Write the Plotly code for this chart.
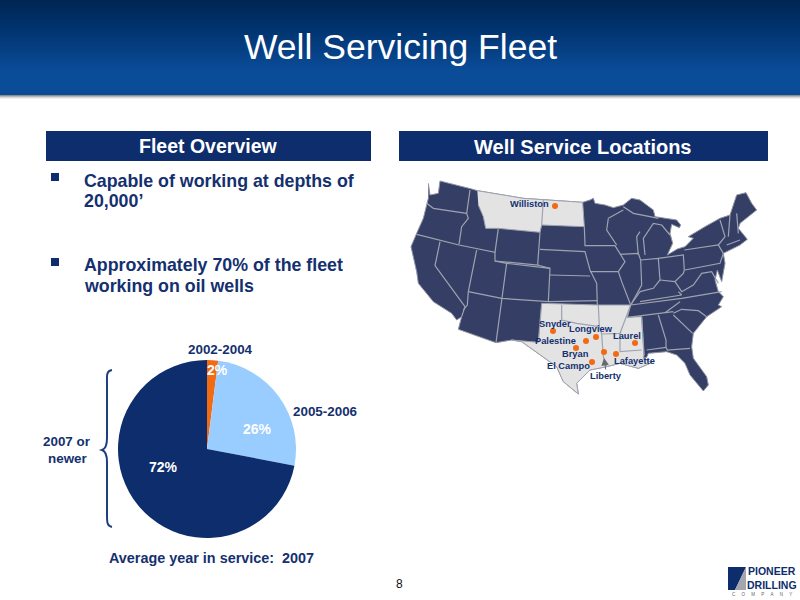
"""Well Servicing Fleet slide: fleet age pie and map of service locations."""

import plotly.graph_objects as go

NAVY = "#0d2d6c"
TEXT = "#14306f"
FONT = "Liberation Sans"

# fleet age split
age_labels = ["2002-2004", "2005-2006", "2007 or newer"]
age_values = [2, 26, 72]
age_colors = ["#f26a12", "#99ccff", NAVY]
age_label_x = [217, 257, 163]
age_label_y = [370, 429, 467]

# service locations
site_x = [555, 553, 586, 596, 576, 604, 616, 635, 592]
site_y = [206, 331, 341, 337, 348, 352, 354, 343, 362]
site_names = ["Williston", "Snyder", "Palestine", "Longview", "Bryan", "Liberty", "Lafayette", "Laurel", "El Campo"]
site_label_x = [529, 555, 555, 591, 575, 606, 634, 627, 568]
site_label_y = [204, 324, 341, 329, 354, 376, 361, 336, 366]

# header gradient, top to bottom
header_stops = [(0, (0, 38, 82)), (25, (0, 50, 107)), (70, (11, 76, 152)), (94, (11, 76, 152))]

# map outline, traced in a 3x working grid
us_outline = [
    (115, 40), (120, 75), (145, 70), (150, 33), (245, 57), (262, 62), (400, 85), (578, 97), (600, 90), (610, 85),
    (615, 100), (645, 105), (670, 113), (700, 105), (725, 85), (750, 90), (770, 105), (790, 120), (795, 140),
    (860, 150), (872, 165), (868, 173), (845, 163), (840, 190), (848, 220), (832, 255), (862, 237), (885, 230),
    (910, 205), (895, 200), (945, 170), (990, 145), (1020, 135), (1040, 75), (1068, 68), (1085, 100), (1100, 120),
    (1050, 160), (1045, 175), (1072, 208), (1050, 225), (1020, 240), (1000, 250), (1005, 280), (995, 335),
    (982, 300), (975, 330), (985, 365), (1000, 380), (985, 405), (995, 410), (950, 440), (910, 490), (905, 530),
    (910, 565), (950, 620), (955, 645), (940, 663), (900, 615), (885, 580), (860, 555), (830, 545), (775, 550),
    (770, 562), (760, 565), (785, 578), (745, 595), (690, 580), (650, 590), (600, 600), (560, 640), (565, 672),
    (520, 635), (500, 590), (465, 565), (430, 540), (395, 515), (365, 510), (318, 518), (205, 478), (215, 440),
    (200, 450), (185, 430), (130, 395), (85, 340), (80, 305), (70, 265), (63, 230), (80, 190), (100, 145), (115, 85),
]
montana_dakota = [
    (262, 62), (400, 85), (578, 97), (583, 170), (455, 165), (450, 187), (325, 175), (287, 175), (280, 140), (265, 105),
]
south_central = [
    (455, 400), (625, 405), (722, 405), (712, 442), (755, 440), (762, 555), (760, 565), (785, 578), (745, 595),
    (690, 580), (650, 590), (600, 600), (560, 640), (565, 672), (520, 635), (500, 590), (465, 565), (430, 540),
    (395, 515), (365, 510), (445, 517),
]
state_borders = [
    [(110, 100), (130, 115), (230, 130)],
    [(240, 60), (230, 130), (235, 145), (215, 170), (207, 223)],
    [(80, 193), (207, 225), (315, 247), (325, 175)],
    [(150, 215), (135, 287), (225, 410), (215, 440)],
    [(260, 240), (235, 365), (232, 405), (220, 420)],
    [(315, 247), (315, 273), (350, 280), (335, 385), (318, 518)],
    [(235, 365), (335, 385), (475, 395), (480, 295), (350, 280)],
    [(315, 273), (443, 285), (450, 187)],
    [(443, 285), (480, 295)],
    [(450, 238), (585, 245), (600, 300), (620, 340), (622, 405)],
    [(480, 315), (600, 318)],
    [(475, 395), (622, 392)],
    [(455, 400), (445, 517)],
    [(460, 90), (455, 165)],
    [(583, 170), (585, 227), (675, 227), (690, 253), (705, 275), (685, 305), (600, 305)],
    [(655, 145), (650, 180), (680, 225)],
    [(700, 110), (730, 130), (780, 140), (805, 145)],
    [(655, 145), (700, 120)],
    [(685, 305), (695, 335), (722, 405)],
    [(690, 253), (745, 250), (752, 270), (755, 345), (725, 400)],
    [(750, 185), (740, 200), (745, 255)],
    [(765, 255), (760, 205), (790, 160), (815, 165), (840, 195)],
    [(752, 270), (805, 265), (810, 330), (790, 355), (750, 365)],
    [(805, 265), (880, 255), (883, 300), (880, 310), (855, 335), (875, 365), (910, 345), (935, 310), (965, 305),
     (985, 340)],
    [(810, 330), (855, 335)],
    [(722, 405), (750, 365)],
    [(722, 405), (875, 385), (995, 365)],
    [(750, 395), (875, 375), (865, 365)],
    [(712, 442), (850, 425)],
    [(825, 428), (870, 395)],
    [(850, 430), (875, 418), (925, 422), (950, 440)],
    [(850, 435), (908, 490)],
    [(805, 435), (828, 510), (828, 532), (832, 540), (900, 535)],
    [(770, 540), (828, 532)],
    [(755, 440), (762, 555)],
    [(883, 240), (985, 225), (1000, 250), (990, 280), (885, 300)],
    [(985, 225), (1005, 200), (990, 150)],
    [(1020, 135), (1015, 200)],
    [(1040, 130), (1045, 190)],
    [(1010, 225), (1050, 210)],
    [(515, 405), (515, 450), (560, 460), (628, 470)],
    [(625, 405), (628, 470), (635, 492), (640, 560), (650, 590)],
    [(635, 492), (690, 490), (722, 405)],
    [(690, 490), (690, 545), (755, 540)],
]


def to_page(points):
    return [p[0] / 3 + 390 for p in points], [p[1] / 3 + 170 for p in points]


def header_rows():
    rows = []
    for y in range(95):
        for (y0, c0), (y1, c1) in zip(header_stops, header_stops[1:]):
            if y0 <= y <= y1:
                t = (y - y0) / (y1 - y0)
                rows.append("rgb(%d,%d,%d)" % tuple(a + (b - a) * t for a, b in zip(c0, c1)))
                break
    return rows


def text(x, y, s, size=12, color=TEXT, bold=True, anchor="center"):
    s = f"<b>{s}</b>" if bold else s
    fig.add_annotation(x=x, y=y, text=s, xref="x", yref="y", showarrow=False, xanchor=anchor, yanchor="middle",
                       align=anchor, font=dict(family=FONT, size=size, color=color))


fig = go.Figure()

# header band
for y, color in enumerate(header_rows()):
    fig.add_shape(type="rect", x0=0, x1=800, y0=y, y1=y + 1.2, fillcolor=color, line_width=0, layer="below")
for y, color in zip(range(95, 99), ["#8c8c8c", "#b5b5b5", "#d8d8d8", "#f0f0f0"]):
    fig.add_shape(type="rect", x0=0, x1=800, y0=y, y1=y + 1, fillcolor=color, line_width=0, layer="below")

# section bars
fig.add_shape(type="rect", x0=46, x1=371, y0=131, y1=161, fillcolor=NAVY, line_width=0, layer="below")
fig.add_shape(type="rect", x0=399, x1=768, y0=131, y1=161, fillcolor=NAVY, line_width=0, layer="below")

# bullets
fig.add_shape(type="rect", x0=51, x1=59, y0=173, y1=181, fillcolor=NAVY, line_width=0, layer="below")
fig.add_shape(type="rect", x0=51, x1=59, y0=258, y1=266, fillcolor=NAVY, line_width=0, layer="below")

# brace next to the pie
fig.add_shape(type="path", line=dict(color="#1f3f7f", width=2),
              path="M 112 370 C 106 371 107 376 107 382 L 107 438 C 107 445 105 449 102 450 "
                   "C 105 451 107 455 107 462 L 107 515 C 107 522 107 526 112 527")

# map
x, y = to_page(us_outline)
fig.add_trace(go.Scatter(x=x, y=y, mode="lines", fill="toself", fillcolor="#353f66",
                         line=dict(color="#8f94a3", width=1), hoverinfo="skip"))
for shape in (montana_dakota, south_central):
    x, y = to_page(shape)
    fig.add_trace(go.Scatter(x=x, y=y, mode="lines", fill="toself", fillcolor="#e3e3e3",
                             line=dict(color="#9ea3b0", width=1), hoverinfo="skip"))
for line in state_borders:
    x, y = to_page(line)
    fig.add_trace(go.Scatter(x=x, y=y, mode="lines", line=dict(color="#9ea3b0", width=1.2), hoverinfo="skip"))

fig.add_trace(go.Scatter(x=site_x, y=site_y, mode="markers", text=site_names, hoverinfo="text",
                         marker=dict(size=6, color="#f26a12")))

# pie
fig.add_trace(go.Pie(labels=age_labels, values=age_values, sort=False, direction="clockwise", rotation=0,
                     marker=dict(colors=age_colors), textinfo="none", hoverinfo="label+percent",
                     domain=dict(x=[118 / 800, 296 / 800], y=[1 - 538 / 600, 1 - 360 / 600])))

# texts
text(400, 47, "Well Servicing Fleet", size=35.5, color="white", bold=False)
text(208, 146, "Fleet Overview", size=19.5, color="white")
text(583, 147, "Well Service Locations", size=20, color="white")
text(82, 181, "Capable of working at depths of", size=17.8, anchor="left")
text(82, 201, "20,000’", size=17.8, anchor="left")
text(82, 265, "Approximately 70% of the fleet", size=17.8, anchor="left")
text(82, 286, "working on oil wells", size=17.8, anchor="left")
text(220, 349, age_labels[0], size=13.4)
text(325, 411, age_labels[1], size=13.4)
text(67, 441, "2007 or", size=13.4)
text(67, 458, "newer", size=13.4)
text(211, 558, "Average year in service:  2007", size=14.4)
text(399, 584, "8", size=12, color="#111111", bold=False)

for value, lx, ly in zip(age_values, age_label_x, age_label_y):
    text(lx, ly, f"{value}%", size=14, color="white")
for name, lx, ly in zip(site_names, site_label_x, site_label_y):
    text(lx, ly, name, size=9.3)

fig.add_annotation(x=604, y=358, ax=606, ay=371, xref="x", yref="y", axref="x", ayref="y", text="",
                   arrowcolor="#666a70", arrowwidth=1, arrowhead=2, arrowsize=1.5)

# logo
fig.add_shape(type="path", fillcolor=NAVY, line_width=0, path="M 728 567 L 746 567 L 735 590 L 728 590 Z")
fig.add_shape(type="path", fillcolor="#a3a6ab", line_width=0, path="M 746 567 L 746 590 L 735 590 Z")
text(772, 571, "PIONEER", size=10.5, color=NAVY)
text(772, 585, "DRILLING", size=10.5, color=NAVY)
nbsp = "\u00a0" * 5
text(762, 594, nbsp.join("COMPANY"), size=4.5, color="#666666", bold=False)

fig.update_xaxes(range=[0, 800], visible=False, fixedrange=True)
fig.update_yaxes(range=[600, 0], visible=False, fixedrange=True)
fig.update_layout(width=800, height=600, margin=dict(l=0, r=0, t=0, b=0), showlegend=False,
                  paper_bgcolor="white", plot_bgcolor="white")

# the page's default body margin would push the slide off by 8px
fig.write_html("out.html", config=dict(displayModeBar=False), post_script="document.body.style.margin = '0';")
